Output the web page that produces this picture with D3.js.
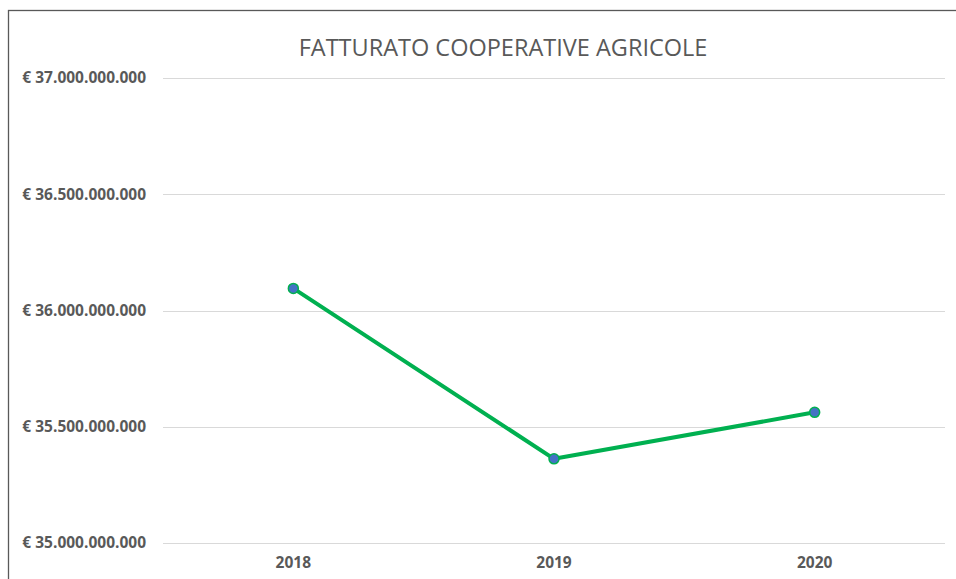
<!DOCTYPE html>
<html>
<head>
<meta charset="utf-8">
<script src="https://cdn.jsdelivr.net/npm/d3@7"></script>
<style>
  body { margin: 0; background: #fff; }
  svg text { font-family: "Open Sans", Lato, sans-serif; fill: #595959; }
</style>
</head>
<body>
<div id="chart"></div>
<script>
// chart values
var years = ["2018", "2019", "2020"];
var revenue = [36095000000, 35362000000, 35562000000];
var yTicks = [35000000000, 35500000000, 36000000000, 36500000000, 37000000000];
var chartTitle = "FATTURATO COOPERATIVE AGRICOLE";

var W = 956, H = 579;
var margin = { top: 78, right: 11, bottom: 36, left: 163 };
var width = W - margin.left - margin.right,
    height = 543 - margin.top;

var svg = d3.select("#chart").append("svg")
    .attr("width", W)
    .attr("height", H);

// outer chart border
svg.append("rect")
    .attr("x", 8.5).attr("y", 10.5)
    .attr("width", W + 10).attr("height", H + 10)
    .attr("fill", "none")
    .attr("stroke", "#595959")
    .attr("stroke-width", 1.3);

svg.append("text")
    .attr("x", 503).attr("y", 56)
    .attr("text-anchor", "middle")
    .style("font-size", "23.5px")
    .text(chartTitle);

var g = svg.append("g")
    .attr("transform", "translate(" + margin.left + "," + margin.top + ")");

var x = d3.scaleBand().domain(years).range([0, width]);
var y = d3.scaleLinear().domain([35000000000, 37000000000]).range([height, 0]);

var fmt = function(v) {
    return "€ " + d3.format(",")(v).replace(/,/g, ".");
};

// gridlines
g.selectAll(".grid").data(yTicks).enter().append("line")
    .attr("class", "grid")
    .attr("x1", 0).attr("x2", width)
    .attr("y1", d => Math.round(y(d)) + 0.5)
    .attr("y2", d => Math.round(y(d)) + 0.5)
    .attr("stroke", "#d9d9d9")
    .attr("stroke-width", 1);

// y axis labels
var yAxis = d3.axisLeft(y).tickValues(yTicks).tickFormat(fmt).tickSize(0).tickPadding(17);
var ya = g.append("g").attr("class", "y-axis").call(yAxis);
ya.select(".domain").remove();
ya.selectAll("text")
    .style("font-size", "15.5px")
    .style("font-weight", "bold")
    .attr("fill", "#595959");

// x axis labels
var xAxis = d3.axisBottom(x).tickSize(0).tickPadding(14);
var xa = g.append("g").attr("class", "x-axis")
    .attr("transform", "translate(0," + height + ")")
    .call(xAxis);
xa.select(".domain").remove();
xa.selectAll("text")
    .style("font-size", "15.5px")
    .style("font-weight", "bold")
    .attr("fill", "#595959");

var pts = years.map((yr, i) => ({ year: yr, value: revenue[i] }));

var line = d3.line()
    .x(d => x(d.year) + x.bandwidth() / 2)
    .y(d => y(d.value));

g.append("path")
    .datum(pts)
    .attr("d", line)
    .attr("fill", "none")
    .attr("stroke", "#00b050")
    .attr("stroke-width", 4)
    .attr("stroke-linejoin", "round");

g.selectAll(".dot").data(pts).enter().append("circle")
    .attr("class", "dot")
    .attr("cx", d => x(d.year) + x.bandwidth() / 2)
    .attr("cy", d => y(d.value))
    .attr("r", 5)
    .attr("fill", "#4472c4")
    .attr("stroke", "#00b050")
    .attr("stroke-width", 1.5);
</script>
</body>
</html>
